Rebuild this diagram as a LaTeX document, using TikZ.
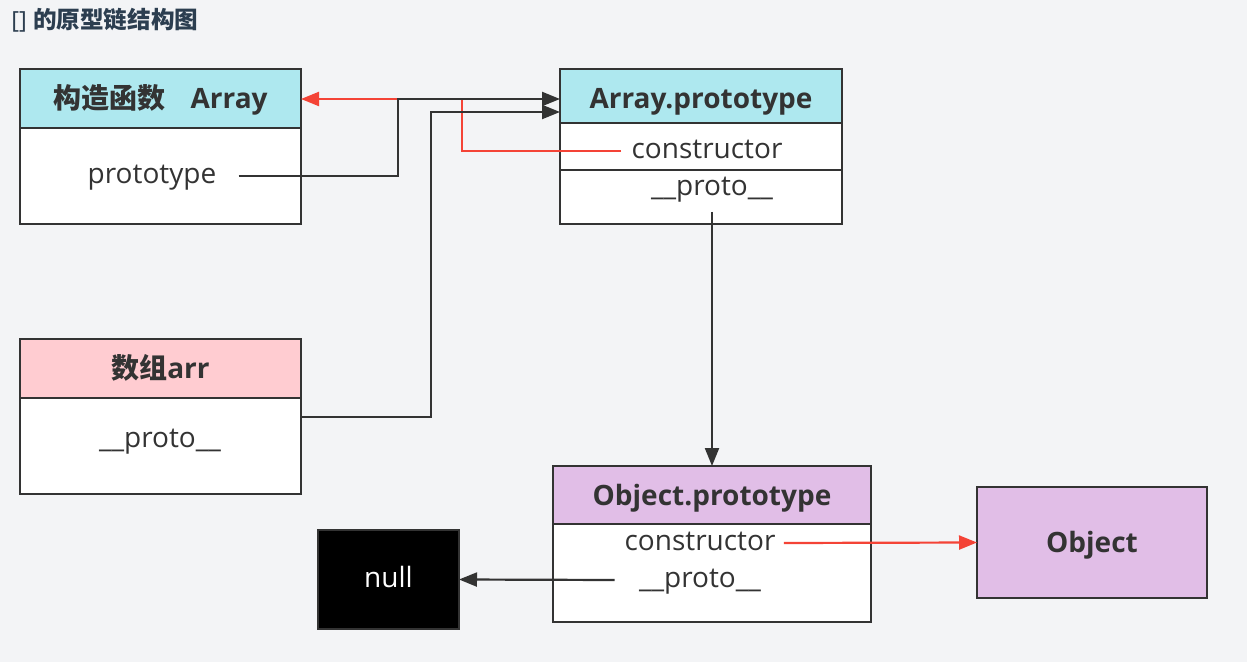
\documentclass[tikz,border=0pt]{standalone}
\usepackage{fontspec}
\setmainfont{Open Sans}
\newfontfamily\cjk{Noto Sans CJK SC}
\usepackage{tikz}
\usetikzlibrary{arrows.meta,positioning}
\definecolor{headcyan}{HTML}{AEE8EF}
\definecolor{headpink}{HTML}{FFCCD1}
\definecolor{headpurple}{HTML}{E1BEE7}
\definecolor{bggray}{HTML}{F3F4F6}
\definecolor{linegray}{HTML}{333333}
\definecolor{linkred}{HTML}{F44336}
\definecolor{titleblue}{HTML}{2C3E50}

\begin{document}
\begin{tikzpicture}[x=0.5pt,y=-0.5pt]
\tikzstyle{box}=[draw=linegray,line width=1.3pt,inner sep=0pt,outer sep=0pt]
\tikzstyle{head}=[box,text=linegray,text height=10pt,text depth=0pt,font=\bfseries\fontsize{14}{17}\selectfont]
\tikzstyle{body}=[box,fill=white]
\tikzstyle{field}=[inner sep=0pt,text=linegray,text height=7.5pt,text depth=0pt,font=\fontsize{14}{17}\selectfont]
\tikzstyle{link}=[draw=linegray,line width=1.1pt,-{Triangle[length=9pt,width=7pt]}]
\tikzstyle{back}=[link,draw=linkred,-{Triangle[length=9pt,width=7pt,fill=linkred]},color=linkred]
\fill[bggray] (0,0) rectangle (1247,662);
\useasboundingbox (0,0) rectangle (1247,662);
\node[anchor=west,inner sep=0pt,text=titleblue,font=\bfseries\fontsize{11.8}{14}\selectfont] (title) at (11,20) {{\mdseries[]} \cjk 的原型链结构图};
\node[head,fill=headcyan,minimum width=140.5pt,minimum height=29.5pt] (ctor) at (160.5,98.5) {{\cjk 构造函数}\hspace{0.9em}Array};
\node[body,minimum width=140.5pt,minimum height=48pt,below=0pt of ctor] (ctorbody) {};
\node[field] (ctorproto) at (152,176) {prototype};
\node[head,fill=headcyan,minimum width=141pt,minimum height=27pt] (aproto) at (701,96) {\raisebox{-1.5pt}{Array.prototype}};
\node[body,minimum width=141pt,minimum height=23.5pt,below=0pt of aproto] (actorrow) {};
\node[body,minimum width=141pt,minimum height=27pt,below=0pt of actorrow] (aprotorow) {};
\node[field] (actor) at (707,151) {constructor};
\node[field] (aprotoproto) at (712,188) {\_\_proto\_\_};
\node[head,fill=headpink,minimum width=140.5pt,minimum height=29.5pt] (arr) at (160.5,368.5) {{\cjk 数组}arr};
\node[body,minimum width=140.5pt,minimum height=48pt,below=0pt of arr] (arrbody) {};
\node[field] (arrproto) at (160,440) {\_\_proto\_\_};
\node[head,fill=headpurple,minimum width=159pt,minimum height=29pt] (oproto) at (712,495) {Object.prototype};
\node[body,minimum width=159pt,minimum height=49pt,below=0pt of oproto] (oprotobody) {};
\node[field] (octor) at (700,543) {constructor};
\node[field] (oprotoproto) at (700,580) {\_\_proto\_\_};
\node[box,fill=black,text=white,text height=7.5pt,text depth=0pt,minimum width=70.5pt,minimum height=49.5pt,font=\fontsize{14}{17}\selectfont] (null) at (388.5,579.5) {null};
\node[head,fill=headpurple,minimum width=115pt,minimum height=55.5pt] (obj) at (1092,542.5) {Object};
\draw[back] ([xshift=-5pt]actor.west) -| (462,99) -- (462,99 -| ctor.east);
\draw[link] ([xshift=11pt]ctorproto.east) -| (398,99) -- (398,99 -| aproto.west);
\draw[link] (arrbody.east |- 0,417) -| (431,112) -- (431,112 -| aproto.west);
\draw[link] ([yshift=-8pt]aprotoproto.south) -- (oproto.north);
\draw[back] ([xshift=4pt]octor.east) -- (obj.west);
\draw[link] ([xshift=-12pt]oprotoproto.west) -- (null.east);
\end{tikzpicture}
\end{document}
